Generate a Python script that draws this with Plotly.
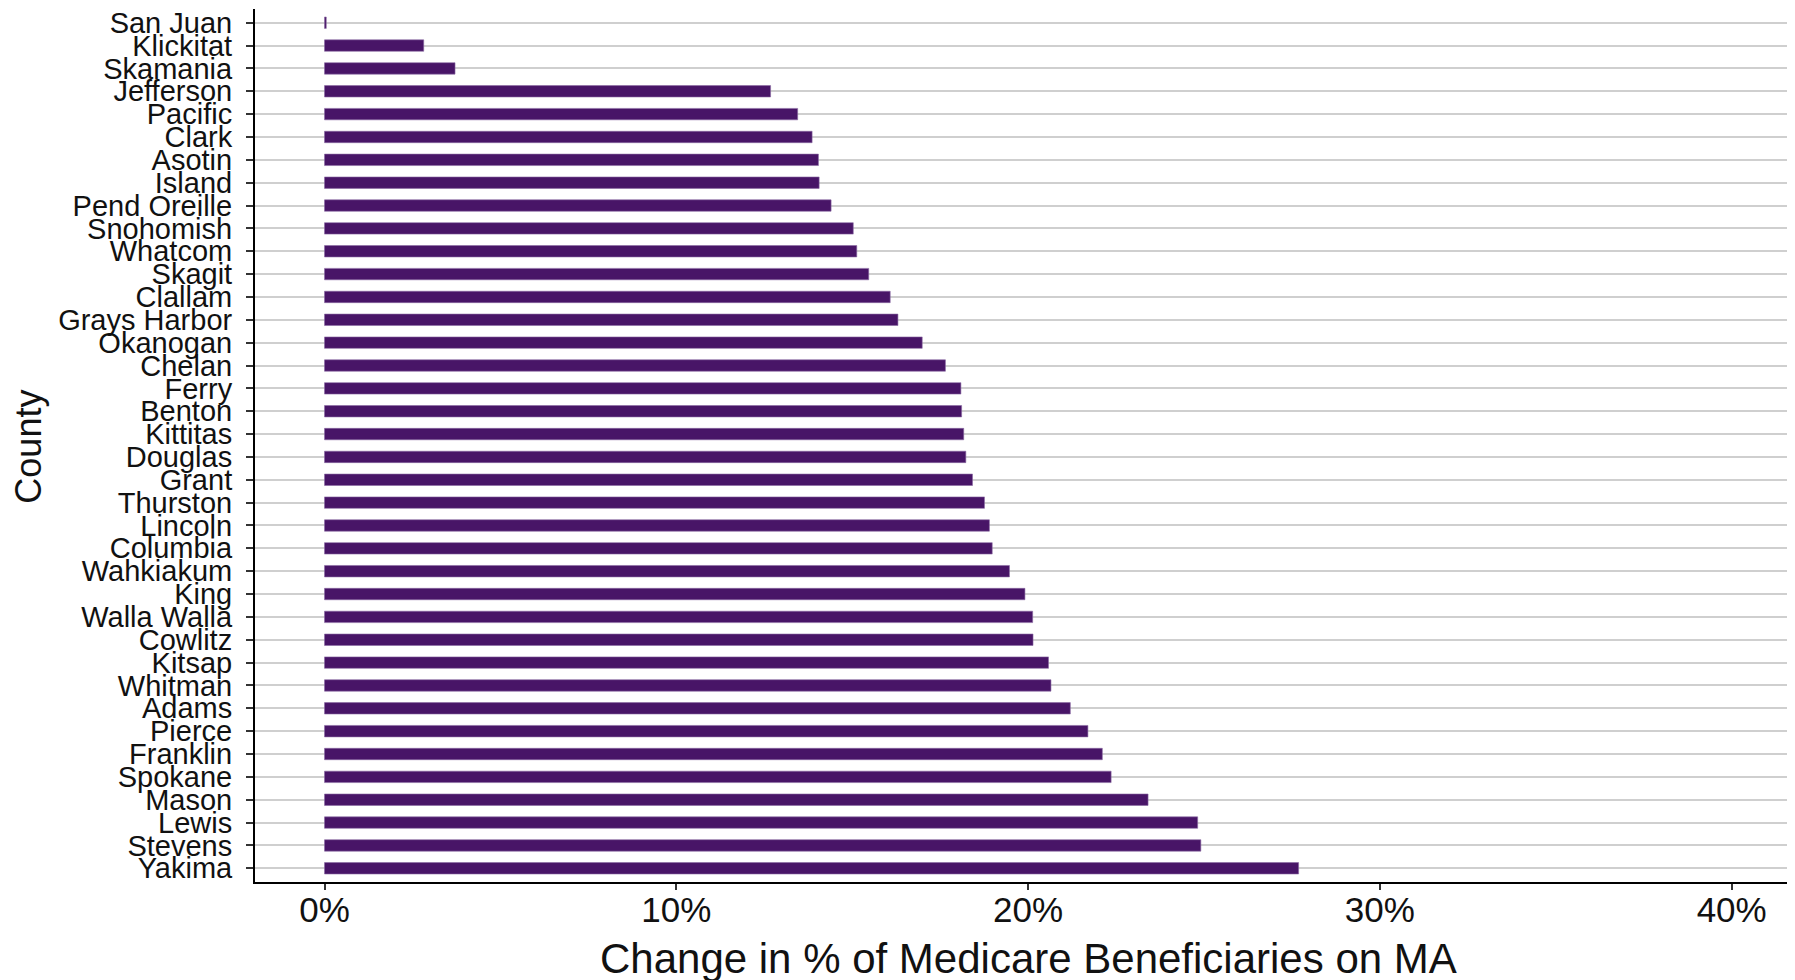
import plotly.graph_objects as go

counties = ["San Juan", "Klickitat", "Skamania", "Jefferson", "Pacific", "Clark", "Asotin",
            "Island", "Pend Oreille", "Snohomish", "Whatcom", "Skagit", "Clallam",
            "Grays Harbor", "Okanogan", "Chelan", "Ferry", "Benton", "Kittitas", "Douglas",
            "Grant", "Thurston", "Lincoln", "Columbia", "Wahkiakum", "King", "Walla Walla",
            "Cowlitz", "Kitsap", "Whitman", "Adams", "Pierce", "Franklin", "Spokane",
            "Mason", "Lewis", "Stevens", "Yakima"]
change_pct = [0.05, 2.82, 3.71, 12.68, 13.45, 13.86, 14.04,
              14.06, 14.40, 15.03, 15.13, 15.47, 16.08,
              16.30, 16.99, 17.65, 18.09, 18.11, 18.17, 18.23,
              18.42, 18.76, 18.90, 18.98, 19.47, 19.91, 20.13,
              20.14, 20.58, 20.65, 21.20, 21.70, 22.11, 22.36,
              23.41, 24.82, 24.91, 27.69]
x_ticks = [0, 10, 20, 30, 40]
x_tick_labels = ["0%", "10%", "20%", "30%", "40%"]

FONT = "Liberation Sans, Arial, sans-serif"

fig = go.Figure(go.Bar(
    x=change_pct, y=counties, orientation="h",
    marker=dict(color="#481567", line=dict(width=0.6, color="#8a6aa3")),
    width=0.5,
))

# page body has an 8px default margin, so the figure is sized to fit the window
fig.update_layout(
    width=1787, height=972,
    margin=dict(l=247, r=0, t=1, b=98),
    plot_bgcolor="white", paper_bgcolor="white",
    showlegend=False,
    font=dict(family=FONT, color="#111111"),
)
fig.update_xaxes(
    range=[-1.976, 41.80],
    tickmode="array", tickvals=x_ticks, ticktext=x_tick_labels,
    showgrid=False, zeroline=False, automargin=False,
    showline=True, linecolor="black", linewidth=2,
    ticks="outside", ticklen=6, tickwidth=2, tickcolor="#333333",
    tickfont=dict(size=35, family=FONT, color="#111111"),
    ticklabelstandoff=-10,
)
fig.update_yaxes(
    categoryorder="array", categoryarray=counties,
    tickmode="array", tickvals=counties, ticktext=counties,
    range=[37.6, -0.6], automargin=False,
    showgrid=True, gridcolor="#cfcfcf", gridwidth=1.6,
    zeroline=False,
    showline=True, linecolor="black", linewidth=2,
    ticks="outside", ticklen=7, tickwidth=2, tickcolor="#333333",
    tickfont=dict(size=29, family=FONT, color="#111111"),
    ticklabelstandoff=8,
)

fig.add_annotation(
    text="Change in % of Medicare Beneficiaries on MA",
    xref="paper", yref="paper", x=0.5023, y=-0.0871,
    xanchor="center", yanchor="middle", showarrow=False,
    font=dict(size=42, family=FONT, color="#111111"),
)
fig.add_annotation(
    text="County",
    xref="paper", yref="paper", x=-0.1468, y=0.4986,
    xanchor="center", yanchor="middle", showarrow=False, textangle=-90,
    font=dict(size=36, family=FONT, color="#111111"),
)

fig.write_html("out.html")
